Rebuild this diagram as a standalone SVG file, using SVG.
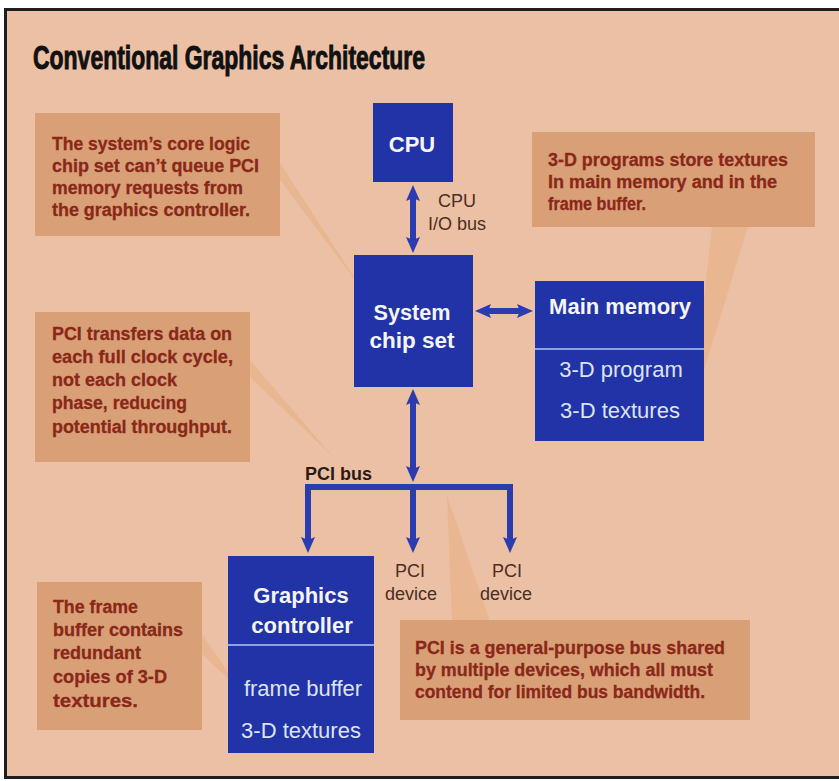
<svg xmlns="http://www.w3.org/2000/svg" width="839" height="781" viewBox="0 0 839 781">
<style>
.box{fill:#2133A6}
.div{stroke:#8CA2E2;stroke-width:2}
.bt{font-family:"Liberation Sans",Arial,sans-serif;font-weight:bold;font-size:22px;fill:#F4F5FB;text-anchor:middle}
.rt{font-family:"Liberation Sans",Arial,sans-serif;font-size:22px;fill:#DDE3F7;text-anchor:middle}
.call{fill:#D9A078}
.tail{fill:#E6B184;opacity:0.6}
.ct{font-family:"Liberation Sans",Arial,sans-serif;font-weight:bold;font-size:18px;fill:#8A2818;stroke:#8A2818;stroke-width:0.3}
.lbl{font-family:"Liberation Sans",Arial,sans-serif;font-size:18px;fill:#4B2E22;text-anchor:middle}
.conn{fill:none;stroke:#2A3CB0;stroke-width:6}
</style>
<defs>
<marker id="ah" viewBox="0 0 16 14" refX="3" refY="7" markerWidth="16" markerHeight="14" markerUnits="userSpaceOnUse" orient="auto-start-reverse">
<path d="M0,0 L16,7 L0,14 L3,7 Z" fill="#2A3CB0"/>
</marker>
</defs>
<rect x="0" y="0" width="839" height="781" fill="#FFFFFF"/>
<rect id="frame" x="5.5" y="9.5" width="840" height="768" fill="#EBC0A5" stroke="#1E1E1E" stroke-width="3"/>
<text id="title" x="33" y="69" font-family="'Liberation Sans Narrow','Liberation Sans',Arial,sans-serif" font-weight="bold" font-size="34" fill="#111111" stroke="#111111" stroke-width="1" textLength="392" lengthAdjust="spacingAndGlyphs">Conventional Graphics Architecture</text>

<g id="callout-chipset">
<polygon class="tail" points="280,163 280,180 361,288"/>
<rect class="call" x="35" y="113" width="245" height="123"/>
<text class="ct" x="52" y="150" textLength="198" lengthAdjust="spacingAndGlyphs">The system’s core logic</text>
<text class="ct" x="52" y="172" textLength="207" lengthAdjust="spacingAndGlyphs">chip set can’t queue PCI</text>
<text class="ct" x="52" y="194" textLength="191" lengthAdjust="spacingAndGlyphs">memory requests from</text>
<text class="ct" x="52" y="216" textLength="198" lengthAdjust="spacingAndGlyphs">the graphics controller.</text>
</g>

<g id="callout-textures">
<polygon class="tail" points="712,226 748,226 692,410"/>
<rect class="call" x="532" y="132" width="283" height="95"/>
<text class="ct" x="548" y="166" textLength="240" lengthAdjust="spacingAndGlyphs">3-D programs store textures</text>
<text class="ct" x="548" y="188" textLength="229" lengthAdjust="spacingAndGlyphs">In main memory and in the</text>
<text class="ct" x="548" y="210" textLength="98" lengthAdjust="spacingAndGlyphs">frame buffer.</text>
</g>

<g id="callout-clock">
<polygon class="tail" points="250,360 250,377 334,458"/>
<rect class="call" x="35" y="312" width="215" height="150"/>
<text class="ct" x="52" y="340" textLength="180" lengthAdjust="spacingAndGlyphs">PCI transfers data on</text>
<text class="ct" x="52" y="363" textLength="181" lengthAdjust="spacingAndGlyphs">each full clock cycle,</text>
<text class="ct" x="52" y="386" textLength="125" lengthAdjust="spacingAndGlyphs">not each clock</text>
<text class="ct" x="52" y="409" textLength="135" lengthAdjust="spacingAndGlyphs">phase, reducing</text>
<text class="ct" x="52" y="433" textLength="180" lengthAdjust="spacingAndGlyphs">potential throughput.</text>
</g>

<g id="callout-framebuffer">
<polygon class="tail" points="202,634 202,654 240,690"/>
<rect class="call" x="37" y="582" width="165" height="148"/>
<text class="ct" x="53" y="613" textLength="85" lengthAdjust="spacingAndGlyphs">The frame</text>
<text class="ct" x="53" y="636" textLength="130" lengthAdjust="spacingAndGlyphs">buffer contains</text>
<text class="ct" x="53" y="659" textLength="88" lengthAdjust="spacingAndGlyphs">redundant</text>
<text class="ct" x="53" y="683" textLength="114" lengthAdjust="spacingAndGlyphs">copies of 3-D</text>
<text class="ct" x="53" y="707" textLength="85" lengthAdjust="spacingAndGlyphs">textures.</text>
</g>

<g id="callout-bus">
<polygon class="tail" points="447,496 452,621 490,621"/>
<rect class="call" x="400" y="620" width="350" height="100"/>
<text class="ct" x="415" y="654" textLength="310" lengthAdjust="spacingAndGlyphs">PCI is a general-purpose bus shared</text>
<text class="ct" x="415" y="676" textLength="298" lengthAdjust="spacingAndGlyphs">by multiple devices, which all must</text>
<text class="ct" x="415" y="698" textLength="290" lengthAdjust="spacingAndGlyphs">contend for limited bus bandwidth.</text>
</g>

<g id="connectors">
<line class="conn" x1="413" y1="198" x2="413" y2="240" marker-start="url(#ah)" marker-end="url(#ah)"/>
<line class="conn" x1="488" y1="311" x2="520" y2="311" marker-start="url(#ah)" marker-end="url(#ah)"/>
<line class="conn" x1="413" y1="402" x2="413" y2="469" marker-start="url(#ah)" marker-end="url(#ah)"/>
<path class="conn" d="M308,540 V487 H510 V540" stroke-width="7" marker-start="url(#ah)" marker-end="url(#ah)"/>
<line class="conn" x1="413" y1="484" x2="413" y2="540" stroke-width="7" marker-end="url(#ah)"/>
<text class="lbl" x="457" y="207">CPU</text>
<text class="lbl" x="457" y="230">I/O bus</text>
<text x="305" y="480" font-family="'Liberation Sans',Arial,sans-serif" font-weight="bold" font-size="18" fill="#2B1A12">PCI bus</text>
</g>

<g id="cpu">
<rect class="box" x="373" y="103" width="80" height="79"/>
<text class="bt" x="412" y="152">CPU</text>
</g>

<g id="chipset">
<rect class="box" x="354" y="255" width="119" height="132"/>
<text class="bt" x="412" y="320" font-size="24" textLength="77" lengthAdjust="spacingAndGlyphs">System</text>
<text class="bt" x="412" y="348" font-size="24" textLength="85" lengthAdjust="spacingAndGlyphs">chip set</text>
</g>

<g id="mainmemory">
<rect class="box" x="535" y="281" width="169" height="160"/>
<line class="div" x1="535" y1="349" x2="704" y2="349"/>
<text class="bt" x="620" y="314">Main memory</text>
<text class="rt" x="621" y="377">3-D program</text>
<text class="rt" x="620" y="418">3-D textures</text>
</g>

<g id="graphics">
<rect class="box" x="228" y="556" width="146" height="197"/>
<line class="div" x1="228" y1="645" x2="374" y2="645"/>
<text class="bt" x="301" y="603">Graphics</text>
<text class="bt" x="302" y="633">controller</text>
<text class="rt" x="303" y="696">frame buffer</text>
<text class="rt" x="301" y="738">3-D textures</text>
</g>

<g id="pcidevice1">
<text class="lbl" x="410" y="577" font-size="17">PCI</text>
<text class="lbl" x="411" y="600" font-size="17">device</text>
</g>

<g id="pcidevice2">
<text class="lbl" x="507" y="577" font-size="17">PCI</text>
<text class="lbl" x="506" y="600" font-size="17">device</text>
</g>
</svg>
